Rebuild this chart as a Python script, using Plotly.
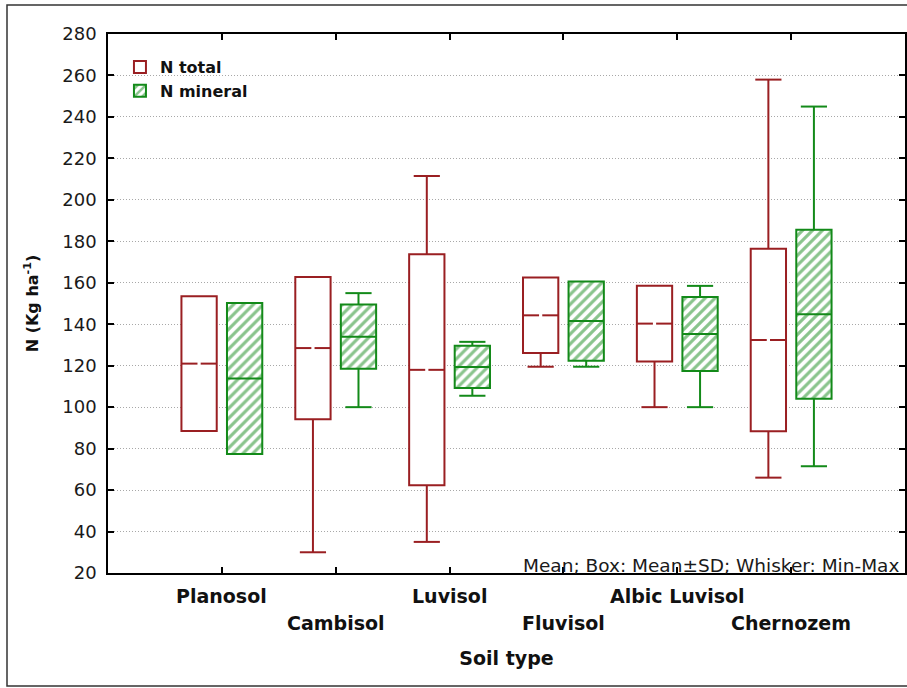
import plotly.graph_objects as go

# ---------------- data ----------------
soil_types = ["Planosol", "Cambisol", "Luvisol", "Fluvisol", "Albic Luvisol", "Chernozem"]

# N total (kg/ha): mean, SD, min, max (None = whisker hidden inside the box)
total_mean = [121.0, 128.5, 118.0, 144.3, 140.3, 132.4]
total_sd = [32.5, 34.3, 55.7, 18.2, 18.3, 44.0]
total_min = [None, 30.0, 35.0, 119.5, 100.0, 66.0]
total_max = [None, None, 211.5, None, None, 258.0]

# N mineral (kg/ha)
mineral_mean = [113.8, 134.0, 119.4, 141.5, 135.3, 144.8]
mineral_sd = [36.4, 15.5, 10.2, 19.1, 17.8, 40.8]
mineral_min = [None, 100.0, 105.5, 119.5, 100.0, 71.5]
mineral_max = [None, 155.0, 131.5, None, 158.5, 245.0]

y_ticks = [20, 40, 60, 80, 100, 120, 140, 160, 180, 200, 220, 240, 260, 280]

# ---------------- styling ----------------
RED = "#9a1f22"
GREEN = "#138a19"
FONT = "DejaVu Sans"
BOX_W = 0.31
OFFSET = 0.2
CAP_HALF = 0.115
GAP_HALF = 0.014

W, H = 907, 688
ML, MR, MT, MB = 108, 2, 34, 115
PW, PH = W - ML - MR, H - MT - MB

cat_pos = list(range(1, len(soil_types) + 1))


def series_traces(name, means, sds, mins, maxs, color, shift, hatched, gap):
    xs = [p + shift for p in cat_pos]
    lows = [m - s for m, s in zip(means, sds)]
    highs = [m + s for m, s in zip(means, sds)]
    marker = dict(color="white", line=dict(color=color, width=2))
    if hatched:
        marker["pattern"] = dict(shape="/", fgcolor=color, bgcolor="white",
                                 size=7, solidity=0.45)
    bar = go.Bar(x=xs, y=[h - l for h, l in zip(highs, lows)], base=lows,
                 width=BOX_W, marker=marker, name=name, showlegend=True,
                 hoverinfo="skip")
    # mean lines
    mx, my = [], []
    for x, m in zip(xs, means):
        if gap:
            mx += [x - BOX_W / 2, x - GAP_HALF, None, x + GAP_HALF, x + BOX_W / 2, None]
            my += [m, m, None, m, m, None]
        else:
            mx += [x - BOX_W / 2, x + BOX_W / 2, None]
            my += [m, m, None]
    mean_tr = go.Scatter(x=mx, y=my, mode="lines", line=dict(color=color, width=2),
                         showlegend=False, hoverinfo="skip")
    # whiskers
    wx, wy = [], []
    for x, lo, hi, mn, mxv in zip(xs, lows, highs, mins, maxs):
        if mxv is not None and mxv > hi:
            wx += [x, x, None, x - CAP_HALF, x + CAP_HALF, None]
            wy += [hi, mxv, None, mxv, mxv, None]
        if mn is not None and mn < lo:
            wx += [x, x, None, x - CAP_HALF, x + CAP_HALF, None]
            wy += [lo, mn, None, mn, mn, None]
    whisk_tr = go.Scatter(x=wx, y=wy, mode="lines", line=dict(color=color, width=2),
                          showlegend=False, hoverinfo="skip")
    return [whisk_tr, bar, mean_tr]


fig = go.Figure()
for tr in series_traces("N total", total_mean, total_sd, total_min, total_max,
                        RED, -OFFSET, False, True):
    fig.add_trace(tr)
for tr in series_traces("N mineral", mineral_mean, mineral_sd, mineral_min, mineral_max,
                        GREEN, OFFSET, True, False):
    fig.add_trace(tr)

fig.update_layout(
    width=W, height=H,
    margin=dict(l=ML, r=MR, t=MT, b=MB, autoexpand=False),
    paper_bgcolor="white", plot_bgcolor="white",
    barmode="overlay",
    font=dict(family=FONT, color="#1a1a1a"),
    showlegend=True,
    legend=dict(x=0.015, y=0.97, xanchor="left", yanchor="top",
                bgcolor="rgba(0,0,0,0)", font=dict(size=16, weight="bold", color="#111"),
                tracegroupgap=0, itemwidth=30),
    xaxis=dict(range=[0, len(soil_types) + 1], tickmode="array", tickvals=cat_pos,
               showticklabels=False, ticks="inside", ticklen=6,
               tickcolor="black", tickwidth=1.5,
               showline=True, linecolor="black", linewidth=1.5, mirror="ticks",
               showgrid=False, zeroline=False,
               title=dict(text="Soil type", font=dict(size=19, weight="bold", color="#111"),
                          standoff=78)),
    yaxis=dict(range=[20, 280], tickmode="array", tickvals=y_ticks,
               ticks="inside", ticklen=6, tickcolor="black", tickwidth=1.5,
               ticklabelstandoff=6,
               showline=True, linecolor="black", linewidth=1.5, mirror="ticks",
               showgrid=True, gridcolor="#a8a8a8", griddash="1px,2px", gridwidth=1,
               zeroline=False, tickfont=dict(size=18, color="#1a1a1a"),
               title=dict(text="N (Kg ha<sup>-1</sup>)",
                          font=dict(size=16, weight="bold", color="#111"), standoff=20)),
)

# staggered category labels (two rows) below the x axis
for i, (pos, label) in enumerate(zip(cat_pos, soil_types)):
    fig.add_annotation(text=label, xref="x", yref="paper", x=pos, y=0,
                       xanchor="center", yanchor="middle",
                       yshift=-23 if i % 2 == 0 else -50,
                       showarrow=False, font=dict(size=19, weight="bold", color="#111"))

# note in the lower-right corner of the plot
fig.add_annotation(text="Mean; Box: Mean±SD; Whisker: Min-Max", xref="paper", yref="paper",
                   x=1, y=0, xanchor="right", yanchor="bottom", xshift=-4, yshift=-5,
                   showarrow=False, font=dict(size=18.5, color="#1a1a1a"))

# outer frame around the whole figure
fig.add_shape(type="rect", xref="paper", yref="paper",
              x0=(7 - ML) / PW, x1=(W + 5 - ML) / PW,
              y0=-(686 - MT - PH) / PH, y1=(MT + PH - 5) / PH,
              line=dict(color="#333", width=1.5), fillcolor="rgba(0,0,0,0)", layer="below")

fig.write_html("out.html")
